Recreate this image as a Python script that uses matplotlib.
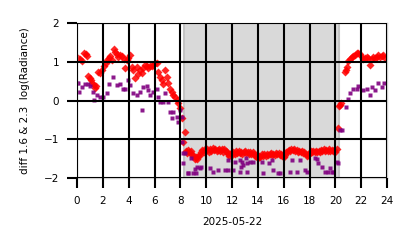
import numpy as np
import matplotlib
matplotlib.use("Agg")
import matplotlib.pyplot as plt

# ---- data (hours of 2025-05-22, diff log radiance) ----
red_day_h = [0.10, 0.23, 0.40, 0.55, 0.68, 0.80, 0.88, 0.97, 1.05, 1.18, 1.30, 1.39, 1.50,
             1.62, 1.75, 1.91, 2.10, 2.25, 2.35, 2.45, 2.55, 2.70, 2.85, 2.97, 3.07, 3.20,
             3.33, 3.46, 3.60, 3.72, 3.85, 3.97, 4.10, 4.23, 4.36, 4.48, 4.62, 4.75, 4.88,
             5.01, 5.13, 5.26, 5.40, 5.52, 5.65, 5.78, 5.91, 6.04, 6.17, 6.30, 6.43, 6.56,
             6.68, 6.81, 6.94, 7.07, 7.20, 7.33, 7.46, 7.59, 7.72, 7.85, 7.95, 8.10, 8.18, 8.36]
red_day_v = [1.10, 1.06, 1.02, 1.22, 1.20, 1.15, 0.64, 0.57, 0.52, 0.46, 0.40, 0.32, 0.38,
             0.74, 0.72, 0.78, 0.90, 0.98, 1.05, 1.10, 1.14, 1.05, 1.32, 1.25, 1.20, 1.13,
             1.18, 1.15, 1.08, 0.85, 1.05, 1.10, 1.17, 0.86, 0.79, 0.58, 0.86, 0.68, 0.79,
             0.72, 0.85, 0.92, 0.88, 0.84, 0.90, 0.89, 0.93, 0.96, 0.98, 0.75, 0.60, 0.52,
             0.42, 0.78, 0.62, 0.45, 0.31, 0.22, 0.14, 0.08, 0.02, -0.07, -0.20, -0.46, -1.06, -0.82]

red_night_h = np.round(np.arange(8.4, 20.15, 0.1), 2)
red_night_v = [-1.30, -1.36, -1.28, -1.34, -1.30, -1.38, -1.42, -1.50, -1.46, -1.52, -1.44, -1.40, -1.32, -1.28, -1.34, -1.26,
               -1.30, -1.24, -1.32, -1.26, -1.30, -1.22, -1.28, -1.25, -1.31, -1.27,
               -1.24, -1.30, -1.26, -1.32, -1.25, -1.29, -1.34, -1.38, -1.42, -1.36,
               -1.40, -1.33, -1.37, -1.31, -1.35, -1.30, -1.36, -1.32, -1.38, -1.33,
               -1.30, -1.36, -1.32, -1.38, -1.34, -1.37, -1.33, -1.39, -1.42, -1.46,
               -1.48, -1.42, -1.45, -1.39, -1.43, -1.38, -1.42, -1.37, -1.41, -1.38,
               -1.36, -1.41, -1.37, -1.40, -1.35, -1.39, -1.36, -1.40, -1.38, -1.43,
               -1.46, -1.40, -1.34, -1.30, -1.27, -1.30, -1.25, -1.28, -1.26, -1.30,
               -1.28, -1.32, -1.29, -1.33, -1.31, -1.35, -1.34, -1.38, -1.44, -1.40,
               -1.36, -1.31, -1.34, -1.29, -1.33, -1.30, -1.34, -1.29, -1.32, -1.28,
               -1.30, -1.26, -1.31, -1.27, -1.30, -1.26, -1.29, -1.27, -1.31, -1.28,
               -1.32, -1.26]

red_eve_h = [20.23, 20.30, 20.36, 20.45, 20.75, 20.83, 20.90, 21.00, 21.10, 21.27, 21.40,
             21.52, 21.65, 21.78, 21.90, 22.05, 22.17, 22.30, 22.43, 22.55, 22.68, 22.80,
             22.94, 23.07, 23.20, 23.33, 23.46, 23.59, 23.72, 23.85]
red_eve_v = [-0.72, -0.15, -0.12, -0.05, 0.74, 0.80, 0.87, 1.02, 1.08, 1.12, 1.15,
             1.18, 1.22, 1.24, 1.20, 1.12, 1.08, 1.10, 1.13, 1.10, 0.92, 1.08,
             1.13, 1.10, 1.12, 1.17, 1.13, 1.15, 1.18, 1.10]

pur_h = [0.02, 0.10, 0.13, 0.36, 0.62, 0.88, 1.00, 1.26, 1.32, 1.52, 1.78, 2.04, 2.30, 2.50,
         2.81, 3.07, 3.33, 3.54, 3.72, 3.97, 4.10, 4.36, 4.62, 4.88, 5.01, 5.13, 5.40, 5.52,
         5.65, 5.91, 6.17, 6.30, 6.43, 6.68, 6.81, 7.07, 7.20, 7.33, 7.46, 7.72, 7.85, 7.97,
         8.10, 8.10, 8.23, 8.23, 8.34, 8.59, 8.62, 8.85, 9.00, 9.11, 9.24, 9.26, 9.50, 9.63,
         10.27, 10.53, 10.92, 11.43, 11.69, 11.69, 12.10, 12.23, 12.60, 12.62, 12.72, 12.75,
         12.88, 13.10, 13.14, 13.14, 13.39, 13.65, 14.30, 14.42, 14.89, 15.07, 15.20, 15.59,
         15.72, 16.49, 16.62, 17.01, 17.26, 17.65, 17.78, 18.42, 18.55, 18.68, 18.94, 19.20,
         19.46, 19.59, 19.72, 19.84, 20.10, 20.23,
         20.36, 20.49, 20.83, 20.98, 21.14, 21.39, 21.65, 21.78, 22.17, 22.43, 22.68, 22.81,
         23.07, 23.33, 23.59, 23.79]
pur_v = [0.46, 0.46, 0.23, 0.36, 0.44, 0.44, 0.37, 0.23, 0.01, 0.14, 0.10, 0.10, 0.20, 0.44,
         0.61, 0.40, 0.44, 0.29, 0.29, 0.53, 0.40, 0.20, 0.14, 0.23, -0.25, 0.36, 0.37, 0.27,
         0.14, 0.23, 0.29, 0.10, -0.03, -0.03, 0.19, -0.03, -0.29, -0.46, -0.29, -0.42, -0.55, -0.25,
         -0.43, -1.06, -1.36, -1.62, -1.36, -1.88, -1.86, -1.47, -1.88, -1.77, -1.88, -1.71, -1.75, -1.71,
         -1.75, -1.84, -1.79, -1.78, -1.54, -1.79, -1.79, -1.58, -1.54, -1.84, -1.71, -1.58,
         -1.66, -1.49, -1.62, -1.84, -1.58, -1.58, -1.58, -1.88, -1.62, -1.54, -1.79, -1.88,
         -1.88, -1.84, -1.54, -1.84, -1.54, -1.79, -1.84, -1.49, -1.51, -1.62, -1.71, -1.84,
         -1.84, -1.75, -1.84, -1.84, -1.58, -1.62,
         -0.76, -0.76, -0.16, 0.03, 0.20, 0.29, 0.29, 0.37, 0.27, 0.31, 0.14, 0.34,
         0.27, 0.46, 0.34, 0.46]

night_span = (8.25, 20.3)
x_ticks = list(range(0, 25, 2))
y_ticks = [-2, -1, 0, 1, 2]

# ---- figure ----
fig = plt.figure(figsize=(4.14, 2.48), dpi=100)
ax = fig.add_axes([0.186, 0.282, 0.749, 0.625])

ax.axvspan(*night_span, facecolor='#d9d9d9', edgecolor='#c4c4c4', linewidth=1.5, zorder=0)

ax.plot(red_day_h + list(red_night_h) + red_eve_h, red_day_v + red_night_v + red_eve_v,
        linestyle='none', marker='D', ms=3.6, color='red', mec='none', alpha=0.85, zorder=2)
ax.plot(pur_h, pur_v, linestyle='none', marker='s', ms=2.9, color='purple', mec='none',
        alpha=0.9, zorder=2)

ax.set_xlim(0, 24)
ax.set_ylim(-2, 2)
ax.set_xticks(x_ticks)
ax.set_yticks(y_ticks)
ax.grid(True, color='black', linewidth=1.5)
ax.set_axisbelow(False)
ax.tick_params(axis='both', direction='out', length=7, width=1.5, color='black',
               labelsize=7.5, pad=6)
ax.set_yticklabels([f"\u2212{abs(t)}" if t < 0 else str(t) for t in y_ticks])
for s in ax.spines.values():
    s.set_color('#cccccc')
    s.set_linewidth(1.0)

ax.set_xlabel("2025-05-22", fontsize=7.5, labelpad=8)
ax.set_ylabel("diff 1.6 & 2.3  log(Radiance)", fontsize=7.5, labelpad=10)

fig.savefig("out.png", dpi=100)
